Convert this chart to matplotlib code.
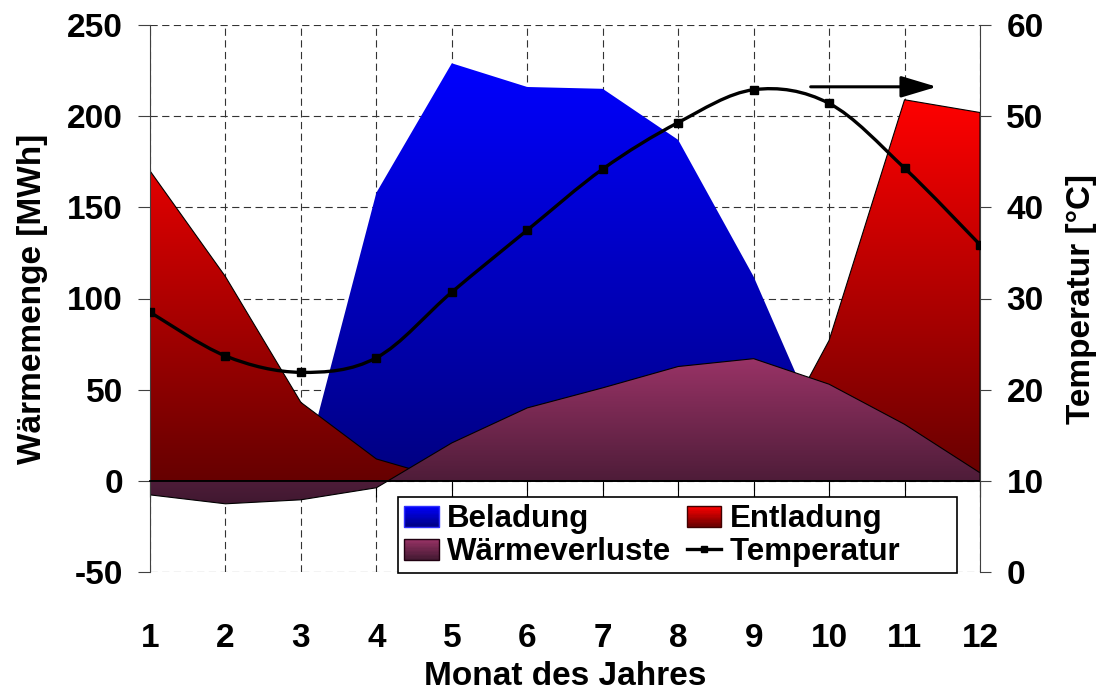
import numpy as np
import matplotlib
matplotlib.use("Agg")
import matplotlib.pyplot as plt
from matplotlib.colors import LinearSegmentedColormap, to_rgb
from matplotlib.path import Path
from matplotlib.patches import PathPatch, Patch, Rectangle
from matplotlib.lines import Line2D
from matplotlib.legend_handler import HandlerBase

# monthly values
months = np.arange(1, 13)
beladung = [0, 0, 0, 158, 229, 216, 215, 187, 112, 17, 0, 0]            # MWh
entladung = [170, 112, 43, 12, 0, 0, 0, 0, 0, 77, 209, 202]             # MWh
waermeverluste = [-7.7, -12.6, -10.4, -3.8, 20.8, 40, 51, 62.7, 67, 53, 31, 4.4]  # MWh
temperatur = [28.5, 23.7, 21.9, 23.5, 30.7, 37.5, 44.2, 49.3, 52.9, 51.4, 44.3, 35.9]  # degC

BLUE = ("#0000ff", "#000080")
RED = ("#ff0000", "#660000")
PURPLE = ("#993366", "#401830")

plt.rcParams["font.family"] = ["Liberation Sans", "DejaVu Sans"]
plt.rcParams["font.weight"] = "bold"
plt.rcParams["axes.labelweight"] = "bold"
plt.rcParams["axes.unicode_minus"] = False

FS = 24


def gradient_area(ax, x, y, colors, z, edge=None):
    y = np.asarray(y, float)
    poly = ax.fill_between(x, 0, y, facecolor="none",
                           edgecolor=edge if edge else "none", lw=0.8, zorder=z + 0.05)
    lo, hi = min(0.0, y.min()), max(0.0, y.max())
    cmap = LinearSegmentedColormap.from_list("g", [colors[1], colors[0]])
    im = ax.imshow(np.linspace(0, 1, 256).reshape(-1, 1), cmap=cmap, aspect="auto",
                   origin="lower", extent=[x[0], x[-1], lo, hi], zorder=z,
                   interpolation="bilinear")
    im.set_clip_path(poly.get_paths()[0], transform=ax.transData)


def smooth_path(x, y):
    # cubic bezier through the points (excel-style smoothed line)
    pts = np.column_stack([np.asarray(x, float), np.asarray(y, float)])
    ext = np.vstack([pts[0], pts, pts[-1]])
    verts, codes = [pts[0]], [Path.MOVETO]
    for i in range(len(pts) - 1):
        p0, p1, p2, p3 = ext[i], ext[i + 1], ext[i + 2], ext[i + 3]
        verts += [p1 + (p2 - p0) / 6, p2 - (p3 - p1) / 6, p2]
        codes += [Path.CURVE4] * 3
    return Path(verts, codes)


class GradHandler(HandlerBase):
    def __init__(self, colors, edge):
        super().__init__()
        self.top = np.array(to_rgb(colors[0]))
        self.bot = np.array(to_rgb(colors[1]))
        self.edge = edge

    def create_artists(self, legend, orig_handle, xd, yd, w, h, fontsize, trans):
        arts = []
        n = 16
        for i in range(n):
            f = (i + 0.5) / n
            c = self.bot + (self.top - self.bot) * f
            arts.append(Rectangle((xd, yd + h * i / n), w, h / n * 1.05, facecolor=c,
                                  edgecolor="none", transform=trans))
        arts.append(Rectangle((xd, yd), w, h, fill=False, edgecolor=self.edge,
                              lw=1.0, transform=trans))
        return arts


fig = plt.figure(figsize=(11.01, 6.93), dpi=100)
ax = fig.add_axes([150 / 1101, 1 - 572 / 693, 830 / 1101, 547 / 693])

gradient_area(ax, months, beladung, BLUE, 1.0)
gradient_area(ax, months, entladung, RED, 1.2, edge="black")
gradient_area(ax, months, waermeverluste, PURPLE, 1.4, edge="black")

ax.set_xlim(1, 12)
ax.set_ylim(-50, 250)
ax.set_yticks(np.arange(-50, 251, 50))
ax.set_xticks(months)
ax.set_axisbelow(True)
ax.grid(True, color="#333333", ls=(0, (6.5, 4)), lw=0.8)

ax.spines["top"].set_visible(False)
ax.spines["right"].set_visible(False)
ax.spines["bottom"].set_position(("data", 0))
ax.spines["bottom"].set_color("black")
ax.spines["bottom"].set_linewidth(1.3)
ax.spines["left"].set_color("#404040")
ax.tick_params(axis="y", direction="out", length=8.5, width=0.8, pad=11,
               labelsize=FS, color="#404040")
ax.tick_params(axis="x", direction="out", length=11.5, width=0.8, labelbottom=False)
ax.set_ylabel("Wärmemenge [MWh]", fontsize=FS, labelpad=14)

sec = ax.secondary_xaxis(0)
sec.set_xticks(months)
sec.tick_params(length=0, pad=37, labelsize=FS)
sec.spines["bottom"].set_visible(False)
sec.set_xlabel("Monat des Jahres", fontsize=FS, labelpad=5)

ax2 = ax.twinx()
ax2.set_ylim(0, 60)
ax2.set_yticks(np.arange(0, 61, 10))
for s in ("top", "bottom", "left"):
    ax2.spines[s].set_visible(False)
ax2.spines["right"].set_color("#404040")
ax2.tick_params(axis="y", direction="out", length=8, width=0.8, pad=11,
                labelsize=FS, color="#404040")
ax2.set_ylabel("Temperatur [°C]", fontsize=FS, labelpad=16)

ax2.add_patch(PathPatch(smooth_path(months, temperatur), facecolor="none",
                        edgecolor="black", lw=2.4, zorder=3))
ax2.plot(months, temperatur, ls="none", marker="s", ms=5.5, color="black", zorder=4)

ax2.annotate("", xy=(0.948, 0.887), xytext=(0.796, 0.887), xycoords="axes fraction",
             arrowprops=dict(arrowstyle="-|>,head_length=1.1,head_width=0.33",
                             mutation_scale=20, lw=2.2, color="black",
                             shrinkA=0, shrinkB=0))

h_bel = Patch(label="Beladung")
h_ent = Patch(label="Entladung")
h_wv = Patch(label="Wärmeverluste")
h_temp = Line2D([], [], color="black", lw=2.4, marker="s", ms=4.5,
                label="Temperatur" + " " * 6)
leg = ax2.legend(handles=[h_bel, h_wv, h_ent, h_temp], ncol=2, loc="lower left",
                 bbox_to_anchor=(398 / 1101, 1 - 573 / 693), bbox_transform=fig.transFigure,
                 borderaxespad=0, fontsize=22.5, frameon=True, fancybox=False,
                 framealpha=1, edgecolor="black", handlelength=1.1, handleheight=0.66,
                 handletextpad=0.27, columnspacing=0.5, labelspacing=0.1, borderpad=0.2,
                 handler_map={h_bel: GradHandler(BLUE, "#3030ff"),
                              h_ent: GradHandler(RED, "#400000"),
                              h_wv: GradHandler(PURPLE, "#200010")})
leg.get_frame().set_linewidth(1.2)

fig.savefig("out.png", dpi=100)
